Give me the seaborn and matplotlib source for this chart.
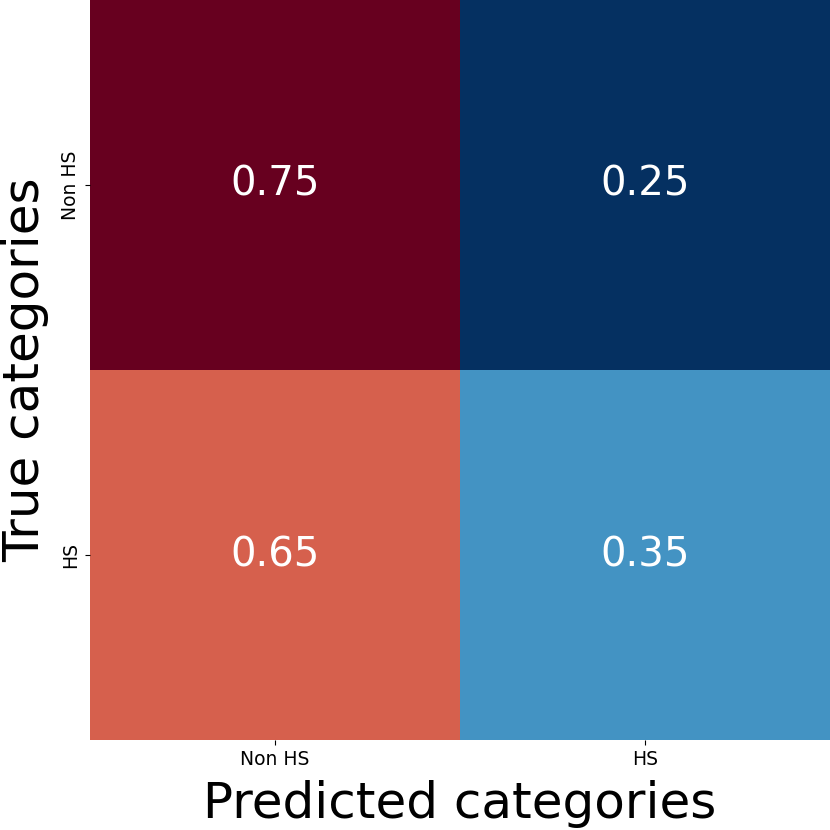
import numpy as np
import pandas as pd
import matplotlib
matplotlib.use("Agg")
import matplotlib.pyplot as plt
import seaborn as sns

# confusion matrix values (normalised per true class)
categories = ["Non HS", "HS"]
row_non_hs = [0.75, 0.25]
row_hs = [0.65, 0.35]

cm = pd.DataFrame([row_non_hs, row_hs], index=categories, columns=categories)

fig = plt.figure(figsize=(8.3, 8.3), dpi=100)
ax = fig.add_axes([90 / 830, 90 / 830, 740 / 830, 740 / 830])

sns.heatmap(cm, ax=ax, cmap="RdBu_r", annot=True, fmt=".2f", cbar=False,
            annot_kws={"fontsize": 29, "color": "white"})

ax.set_xlabel("Predicted categories", fontsize=36, labelpad=8)
ax.set_ylabel("True categories", fontsize=36, labelpad=9)
ax.tick_params(axis="both", labelsize=13.5)
plt.setp(ax.get_yticklabels(), rotation=90, va="center")
plt.setp(ax.get_xticklabels(), rotation=0)

fig.savefig("out.png", dpi=100)
